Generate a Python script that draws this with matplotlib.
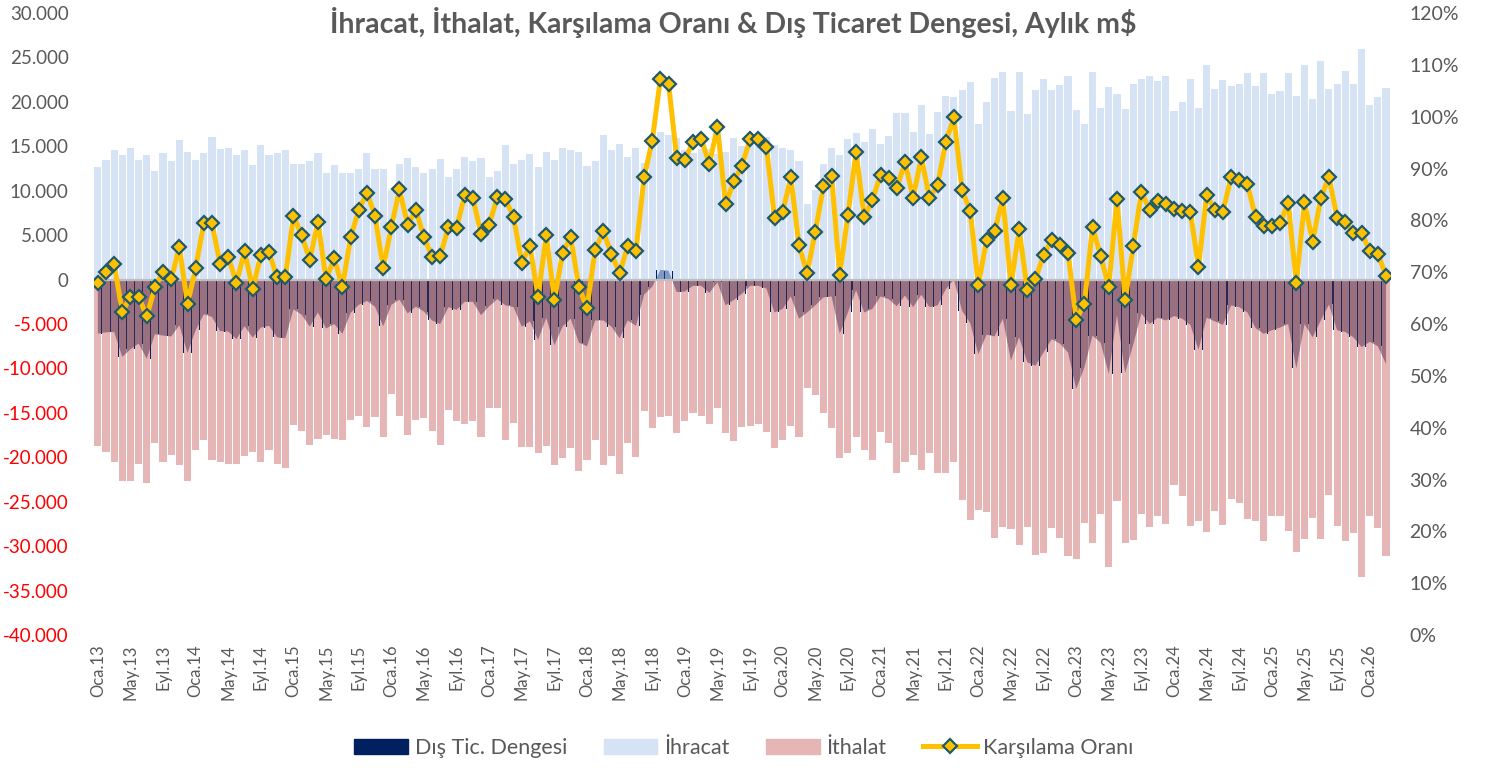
import numpy as np
import matplotlib
matplotlib.use("Agg")
import matplotlib.pyplot as plt
from matplotlib.patches import Patch
from matplotlib.lines import Line2D

plt.rcParams['font.family'] = ['Lato', 'DejaVu Sans']

# monthly data, m$ (Oca.13 - Mar.26)
exports = [12680, 13500, 14600, 14000, 14850, 13500, 14000, 12200, 14200, 13300,
           15750, 14400, 13500, 14200, 16100, 14700, 14850, 14000, 14600, 12900,
           15100, 14000, 14200, 14600, 13050, 13050, 13300, 14200, 12000, 12900,
           12000, 12000, 12450, 14200, 12450, 12450, 10050, 13050, 13700, 12700,
           12000, 12400, 13600, 11600, 12500, 13800, 13400, 13700, 11500, 12200,
           15100, 13000, 13500, 14100, 12700, 14400, 13500, 14800, 14600, 14400,
           12800, 13400, 16300, 14600, 15300, 13800, 14800, 13100, 15900, 16600,
           16300, 15900, 14550, 14300, 14700, 14700, 14100, 14400, 15900, 15000,
           15800, 15600, 16100, 15200, 14800, 14600, 13300, 8500, 10100, 13000,
           14800, 14000, 15800, 16500, 15500, 17000, 15300, 16200, 18800, 18700,
           16600, 19700, 16400, 18900, 20700, 20500, 21300, 22200, 17500, 20000,
           22700, 23400, 19000, 23400, 18600, 21300, 22600, 21300, 21900, 22900,
           19100, 17500, 23400, 19300, 21700, 20900, 19200, 22000, 22600, 22900,
           22300, 22900, 19000, 20000, 22600, 19300, 24100, 21400, 22500, 21800,
           22000, 23300, 21750, 23300, 20900, 21200, 23300, 20700, 24200, 20300,
           24600, 21400, 22000, 23500, 22000, 25900, 19600, 20500, 21600]

imports = [18760, 19430, 20500, 22700, 22700, 20700, 22900, 18350, 20500, 19700,
           20900, 22650, 19200, 18100, 20300, 20500, 20700, 20700, 19850, 19430,
           20500, 19200, 20700, 21200, 16400, 17000, 18600, 17900, 17500, 17900,
           18100, 15750, 15300, 16600, 15500, 17700, 12900, 15300, 17500, 15750,
           15600, 17000, 18600, 14700, 15900, 16300, 15900, 17700, 14500, 14400,
           18000, 16100, 18800, 18800, 19500, 18700, 20900, 20100, 19000, 21500,
           20300, 18000, 20900, 19900, 21900, 18400, 20000, 14800, 16700, 15500,
           15300, 17300, 15900, 15000, 15400, 16200, 14400, 17300, 18200, 16600,
           16500, 16300, 17100, 18900, 18100, 16500, 17700, 12200, 13000, 15000,
           16700, 20100, 19500, 17700, 19200, 20300, 17200, 18400, 21800, 20500,
           19700, 21400, 19500, 21800, 21800, 20500, 24800, 27100, 25900, 26200,
           29100, 27800, 28100, 29900, 27900, 31000, 30800, 28000, 29100, 31100,
           31400, 27400, 29700, 26400, 32300, 24900, 29700, 29300, 26400, 27900,
           26600, 27500, 23100, 24400, 27700, 27200, 28400, 26100, 27600, 24700,
           25100, 27000, 27200, 29400, 26600, 26600, 28300, 30700, 29200, 26800,
           29200, 24200, 27700, 29400, 28500, 33500, 26600, 28000, 31100]

coverage = [67.9, 70.1, 71.6, 62.3, 65.3, 65.3, 61.5, 67.1, 70.1, 68.6,
            74.9, 63.8, 70.8, 79.4, 79.4, 71.6, 73.0, 67.9, 74.1, 66.7,
            73.4, 73.8, 69.0, 69.0, 80.9, 77.1, 72.4, 79.7, 68.6, 72.7,
            67.1, 76.7, 82.0, 85.3, 80.9, 70.8, 78.7, 86.0, 79.1, 82.0,
            76.8, 72.9, 73.1, 78.7, 78.5, 84.9, 84.3, 77.4, 79.1, 84.5,
            84.1, 80.6, 71.8, 75.1, 65.2, 77.2, 64.6, 73.7, 76.8, 67.1,
            63.1, 74.3, 77.9, 73.5, 69.8, 75.1, 74.1, 88.3, 95.4, 107.3,
            106.4, 92.1, 91.6, 95.2, 95.7, 90.9, 98.0, 83.1, 87.5, 90.5,
            95.7, 95.7, 94.2, 80.5, 81.6, 88.3, 75.2, 69.8, 77.8, 86.6,
            88.6, 69.5, 81.0, 93.2, 80.6, 83.9, 88.8, 88.2, 86.2, 91.3,
            84.3, 92.2, 84.3, 86.8, 95.1, 99.9, 85.9, 81.8, 67.5, 76.2,
            77.9, 84.3, 67.5, 78.3, 66.6, 68.7, 73.3, 76.2, 75.2, 73.7,
            60.8, 63.9, 78.7, 73.1, 67.1, 84.1, 64.6, 75.1, 85.5, 82.0,
            83.7, 83.2, 82.2, 81.8, 81.6, 71.0, 84.9, 82.0, 81.6, 88.4,
            87.8, 87.0, 80.6, 79.0, 79.0, 79.4, 83.4, 67.9, 83.5, 75.8,
            84.3, 88.4, 80.5, 79.7, 77.6, 77.6, 74.1, 73.5, 69.3]

month_names = ['Oca', 'Şub', 'Mar', 'Nis', 'May', 'Haz',
               'Tem', 'Ağu', 'Eyl', 'Eki', 'Kas', 'Ara']

n = len(exports)
x = np.arange(n)
exp_arr = np.array(exports)
imp_arr = -np.array(imports)
balance = exp_arr + imp_arr
labels = [f"{month_names[i % 12]}.{13 + i // 12}" for i in range(n)]

c_exp = '#D6E3F4'
c_imp = '#E6B5B5'
c_bal = '#002060'
c_gold = '#FFC000'
c_edge = '#1F5A6B'
c_txt = '#595959'

fig = plt.figure(figsize=(14.88, 7.71), dpi=100)
ax = fig.add_axes([0.063, 0.1764, 0.8712, 0.8067])

ax.bar(x, balance, width=1.0, color=c_bal, zorder=1)
ax.bar(x, exp_arr, width=0.87, color=c_exp, zorder=2)
ax.bar(x, imp_arr, width=0.87, color=c_imp, zorder=2)
ax.fill_between(x, 0, balance, where=balance <= 0, interpolate=True,
                color='#4E2C4A', alpha=0.5, lw=0, zorder=3)
ax.fill_between(x, 0, balance, where=balance >= 0, interpolate=True,
                color='#2c4f96', alpha=0.5, lw=0, zorder=3)
ax.axhline(0, color='#BFBFBF', lw=1.6, zorder=4)

ax.set_xlim(-0.5, n - 0.5)
ax.set_ylim(-40000, 30000)
ax.set_yticks(np.arange(-40000, 30001, 5000))
ax.set_yticklabels([f"{v:,}".replace(',', '.') for v in range(-40000, 30001, 5000)])
for lab, v in zip(ax.get_yticklabels(), range(-40000, 30001, 5000)):
    lab.set_color('#FF0000' if v < 0 else c_txt)
ax.set_xticks(x[::4])
ax.set_xticklabels(labels[::4], rotation=90, color=c_txt, fontsize=12)
ax.tick_params(axis='both', length=0)
ax.tick_params(axis='y', labelsize=13.5, pad=18)
ax.tick_params(axis='x', pad=7)
for s in ax.spines.values():
    s.set_visible(False)

ax2 = ax.twinx()
ax2.plot(x, coverage, color=c_gold, lw=3.6, marker='D', markersize=7.5,
         markerfacecolor=c_gold, markeredgecolor=c_edge, markeredgewidth=1.6,
         zorder=5)
ax2.set_ylim(0, 120)
ax2.set_yticks(np.arange(0, 121, 10))
ax2.set_yticklabels([f"{v}%" for v in range(0, 121, 10)], color=c_txt)
ax2.tick_params(axis='y', length=0, labelsize=14, pad=14)
for s in ax2.spines.values():
    s.set_visible(False)

fig.text(0.4926, 0.971, 'İhracat, İthalat, Karşılama Oranı & Dış Ticaret Dengesi, Aylık m$',
         ha='center', va='center', fontsize=20.5, fontweight='bold', color=c_txt)

handles = [Patch(color=c_bal, label='Dış Tic. Dengesi'),
           Patch(color=c_exp, label='İhracat'),
           Patch(color=c_imp, label='İthalat'),
           Line2D([], [], color=c_gold, lw=3.6, marker='D', markersize=7.5,
                  markerfacecolor=c_gold, markeredgecolor=c_edge,
                  markeredgewidth=1.6, label='Karşılama Oranı')]
leg = fig.legend(handles=handles, loc='center', bbox_to_anchor=(0.5, 0.03),
                 ncol=4, frameon=False, fontsize=15.5, handlelength=2.5,
                 handleheight=0.7, columnspacing=1.7, handletextpad=0.3)
for t in leg.get_texts():
    t.set_color(c_txt)

fig.savefig('out.png', dpi=100)
